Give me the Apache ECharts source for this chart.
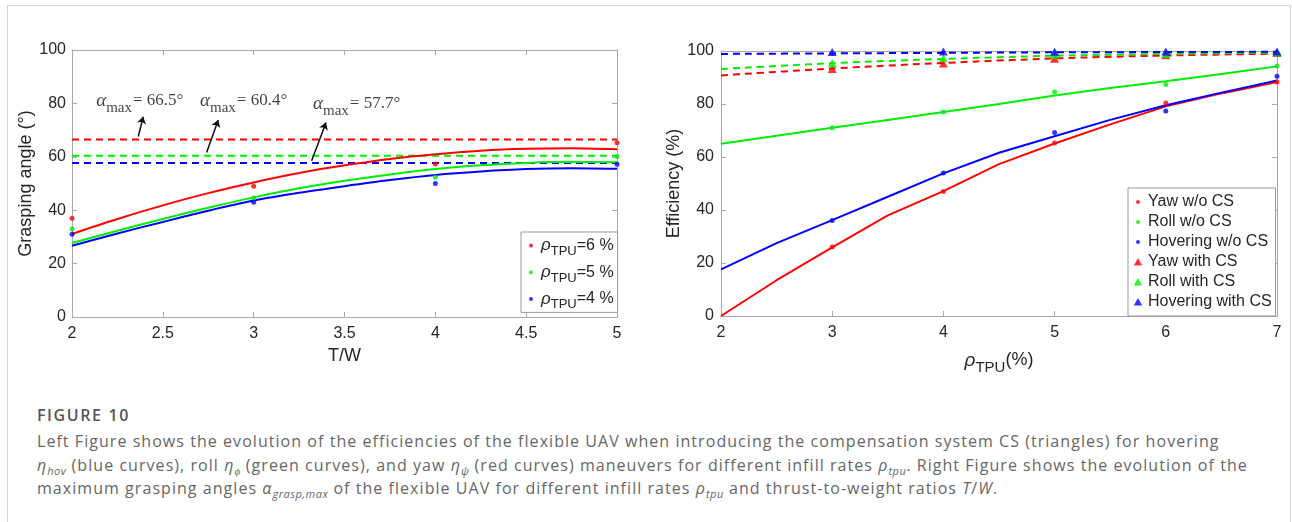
<!DOCTYPE html>
<html><head><meta charset="utf-8">
<script src="https://cdn.jsdelivr.net/npm/echarts@6/dist/echarts.min.js"></script>
<style>
html,body{margin:0;padding:0;background:#fff;width:1292px;height:522px;overflow:hidden;}
#frame{position:absolute;left:7px;top:5px;width:1282px;height:600px;border:1px solid #d4d4d4;}
#chart{position:absolute;left:0;top:0;width:1292px;height:390px;}
.cap{position:absolute;left:37px;font-family:'Open Sans';color:#666;font-size:16px;line-height:23px;white-space:nowrap;letter-spacing:1.05px;}
.cap sub{font-size:11px;line-height:0;vertical-align:-4px;letter-spacing:0.5px;}
#figt{font-weight:600;letter-spacing:1.6px;color:#555;}
</style></head><body>
<div id="frame"></div>
<div id="chart"></div>
<div class="cap" id="figt" style="top:404px;">FIGURE 10</div>
<div class="cap" id="l1" style="top:430px;">Left Figure shows the evolution of the efficiencies of the flexible UAV when introducing the compensation system CS (triangles) for hovering</div>
<div class="cap" id="l2" style="top:453.5px;"><i>η</i><sub><i>hov</i></sub> (blue curves), roll <i>η</i><sub><i>ϕ</i></sub> (green curves), and yaw <i>η</i><sub><i>ψ</i></sub> (red curves) maneuvers for different infill rates <i>ρ</i><sub><i>tpu</i></sub>. Right Figure shows the evolution of the</div>
<div class="cap" id="l3" style="top:477px;">maximum grasping angles <i>α</i><sub><i>grasp,max</i></sub> of the flexible UAV for different infill rates <i>ρ</i><sub><i>tpu</i></sub> and thrust-to-weight ratios <i>T</i>/<i>W</i>.</div>
<script>
// ---------- LEFT chart data (grasping angle vs T/W) ----------
const twTicks = [2, 2.5, 3, 3.5, 4, 4.5, 5];
const twPoints = [2, 3, 4, 5];
const grasp6 = [37, 49, 57.3, 65.3];
const grasp5 = [33, 44.6, 52.3, 60.1];
const grasp4 = [31, 43, 50, 57.2];
const twFitX = [2, 2.25, 2.5, 2.75, 3, 3.25, 3.5, 3.75, 4, 4.25, 4.5, 4.75, 5];
const fit6 = [31.1, 36.7, 41.8, 46.4, 50.4, 53.9, 56.8, 59.2, 61.0, 62.3, 63.0, 63.2, 62.8];
const fit5 = [27.7, 32.3, 36.7, 40.9, 44.8, 48.2, 51.0, 53.4, 55.4, 56.8, 57.7, 58.1, 58.0];
const fit4 = [26.7, 31.3, 35.6, 39.8, 43.6, 46.5, 49.0, 51.3, 53.2, 54.5, 55.4, 55.7, 55.5];
const alphaMax = [66.5, 60.4, 57.7];
const leftNames = ['ρTPU=6 %', 'ρTPU=5 %', 'ρTPU=4 %'];
// annotation anchors (data coords)
const annotText = [[2.133, 80.9], [2.705, 80.9], [3.327, 79.9]];
const annotArrowFrom = [[2.365, 67.6], [2.741, 61.6], [3.319, 58.5]];
const annotArrowTo = [[2.392, 75.0], [2.805, 73.8], [3.398, 72.8]];

// ---------- RIGHT chart data (efficiency vs rho_TPU) ----------
const rhoPoints = [3, 4, 5, 6, 7];
const yawNoCS = [26, 47, 65.3, 80.4, 88.3];
const rollNoCS = [71, 77, 84.5, 87.4, 94.3];
const hovNoCS = [36, 54, 69.2, 77.4, 90.5];
const yawCS = [93.2, 95.3, 97.1, 98.4, 99.2];
const rollCS = [95.4, 97.3, 98.6, 98.9, 99.4];
const hovCS = [99.6, 99.8, 99.7, 99.8, 99.8];
const rhoFitX = [2, 2.5, 3, 3.5, 4, 4.5, 5, 5.5, 6, 6.5, 7];
const yawFit = [0, 13.5, 25.9, 38.0, 47.1, 57.3, 65.1, 72.3, 79.1, 84.0, 88.3];
const rollFit = [65.0, 68.0, 71.0, 74.0, 77.0, 80.0, 83.2, 86.0, 88.6, 91.3, 94.2];
const hovFit = [17.6, 27.5, 36.2, 45.0, 53.8, 61.6, 67.8, 74.0, 79.5, 84.3, 88.9];
const rhoFitCSX = [2, 3, 4, 5, 6, 7];
const yawFitCS = [90.8, 93.4, 95.5, 97.2, 98.3, 99.0];
const rollFitCS = [93.2, 95.4, 97.0, 98.2, 98.9, 99.4];
const hovFitCS = [98.9, 99.1, 99.3, 99.5, 99.6, 99.7];
const rightNames = ['Yaw w/o CS', 'Roll w/o CS', 'Hovering w/o CS', 'Yaw with CS', 'Roll with CS', 'Hovering with CS'];

// ---------- styling ----------
const RED = '#ff0000', GREEN = '#00ee00', BLUE = '#0000ff';
const AXC = '#a8a8a8', TXT = '#262626', FONT = 'Liberation Sans';
const pair = (xs, ys) => xs.map((x, i) => [x, ys[i]]);
const dotIcon = 'path://M0,0L0.01,0M10,10L10.01,10M5,3A2,2,0,1,1,5,7A2,2,0,1,1,5,3Z';
const triIcon = 'path://M0,0L0.01,0M10,10L10.01,10M5,1L9.2,8.6L0.8,8.6Z';

function xAx(grid, min, max, interval, pos, name, extra) {
  return Object.assign({
    type: 'value', gridIndex: grid, min, max, interval, position: pos,
    axisLine: {show: true, onZero: false, lineStyle: {color: AXC, width: 1}},
    axisTick: {show: true, inside: true, length: 5, lineStyle: {color: AXC}},
    axisLabel: {show: pos === 'bottom', color: TXT, fontFamily: FONT, fontSize: 16, margin: 9},
    splitLine: {show: false},
    name: name || '', nameLocation: 'middle', nameGap: 29,
    nameTextStyle: {color: TXT, fontFamily: FONT, fontSize: 18}
  }, extra || {});
}
function yAx(grid, pos, name, gap, margin) {
  return {
    type: 'value', gridIndex: grid, min: 0, max: 100, interval: 20, position: pos,
    axisLine: {show: true, onZero: false, lineStyle: {color: AXC, width: 1}},
    axisTick: {show: true, inside: true, length: 5, lineStyle: {color: AXC}},
    axisLabel: {show: pos === 'left', color: TXT, fontFamily: FONT, fontSize: 16, margin: margin},
    splitLine: {show: false},
    name: name || '', nameLocation: 'middle', nameGap: gap, nameRotate: 90,
    nameTextStyle: {color: TXT, fontFamily: FONT, fontSize: 18}
  };
}

const series = [];
const lcolors = [RED, GREEN, BLUE];
// left dashed max lines
alphaMax.forEach((v, i) => series.push({
  type: 'line', xAxisIndex: 0, yAxisIndex: 0, data: [[2, v], [5, v]], symbol: 'none', silent: true,
  lineStyle: {color: lcolors[i], width: 2, type: [7, 5]}, z: 2
}));
// left fits
[fit6, fit5, fit4].forEach((f, i) => series.push({
  type: 'line', xAxisIndex: 0, yAxisIndex: 0, data: pair(twFitX, f), symbol: 'none', smooth: 0.3, silent: true,
  lineStyle: {color: lcolors[i], width: 2}, z: 3
}));
// left points
[grasp6, grasp5, grasp4].forEach((g, i) => series.push({
  name: leftNames[i], type: 'scatter', xAxisIndex: 0, yAxisIndex: 0, data: pair(twPoints, g),
  symbol: 'circle', symbolSize: 5, itemStyle: {color: lcolors[i]}, z: 4
}));
// annotations
series.push({
  type: 'scatter', xAxisIndex: 0, yAxisIndex: 0, symbolSize: 0, silent: true, z: 6,
  data: annotText.map((p, i) => ({value: p, label: {formatter: '{a|α}{m|max}{e|= ' + alphaMax[i].toFixed(1) + '°}'}})),
  label: {show: true, position: 'right', distance: 0,
    rich: {
      a: {fontFamily: 'Liberation Serif', fontStyle: 'italic', fontSize: 19, color: '#111', lineHeight: 18},
      m: {fontFamily: 'Liberation Serif', fontSize: 15, color: '#111', lineHeight: 15, padding: [14, 1, 0, 0]},
      e: {fontFamily: 'Liberation Serif', fontSize: 17, color: '#111', lineHeight: 18}
    }},
  markLine: {
    silent: true, symbol: ['none', 'arrow'], symbolSize: 7, animation: false,
    label: {show: false},
    lineStyle: {color: '#111', width: 1.5, type: 'solid'},
    data: annotArrowFrom.map((f, i) => [{coord: f}, {coord: annotArrowTo[i]}])
  }
});
// right dashed fits (with CS)
[yawFitCS, rollFitCS, hovFitCS].forEach((f, i) => series.push({
  type: 'line', xAxisIndex: 2, yAxisIndex: 2, data: pair(rhoFitCSX, f), symbol: 'none', smooth: 0.3, silent: true,
  lineStyle: {color: lcolors[i], width: 2, type: [7, 5]}, z: 2
}));
// right solid fits (w/o CS)
[yawFit, rollFit, hovFit].forEach((f, i) => series.push({
  type: 'line', xAxisIndex: 2, yAxisIndex: 2, data: pair(rhoFitX, f), symbol: 'none', silent: true,
  lineStyle: {color: lcolors[i], width: 2}, z: 3
}));
// right dots
[yawNoCS, rollNoCS, hovNoCS].forEach((g, i) => series.push({
  name: rightNames[i], type: 'scatter', xAxisIndex: 2, yAxisIndex: 2, data: pair(rhoPoints, g),
  symbol: 'circle', symbolSize: 5, itemStyle: {color: lcolors[i]}, z: 4
}));
// right triangles
[yawCS, rollCS, hovCS].forEach((g, i) => series.push({
  name: rightNames[i + 3], type: 'scatter', xAxisIndex: 2, yAxisIndex: 2, data: pair(rhoPoints, g),
  symbol: 'triangle', symbolSize: [9, 8], itemStyle: {color: lcolors[i]}, z: 5
}));

const option = {
  animation: false,
  grid: [
    {left: 72, top: 50, width: 545, height: 267},
    {left: 721, top: 51, width: 556, height: 265}
  ],
  xAxis: [
    xAx(0, 2, 5, 0.5, 'bottom', 'T/W'),
    xAx(0, 2, 5, 0.5, 'top'),
    xAx(1, 2, 7, 1, 'bottom', '{r|ρ}{s|TPU}{t|(%)}', {nameGap: 27, nameTextStyle: {color: TXT, fontFamily: FONT, fontSize: 18,
      rich: {r: {fontFamily: FONT, fontStyle: 'italic', fontSize: 19, color: TXT, lineHeight: 19},
             s: {fontFamily: FONT, fontSize: 15, color: TXT, lineHeight: 15, padding: [14, 0, 0, 0]},
             t: {fontFamily: FONT, fontSize: 18, color: TXT, lineHeight: 19}}}}),
    xAx(1, 2, 7, 1, 'top')
  ],
  yAxis: [
    yAx(0, 'left', 'Grasping angle (°)', 35, 6),
    yAx(0, 'right', '', 0, 6),
    yAx(1, 'left', 'Efficiency (%)', 37, 7),
    yAx(1, 'right', '', 0, 7)
  ],
  legend: [
    {
      orient: 'vertical', left: 521, top: 232, padding: [1, 4, 1, 5], itemGap: 1.7,
      itemWidth: 10, itemHeight: 10, backgroundColor: '#fff', borderColor: '#999', borderWidth: 1,
      selectedMode: false,
      data: leftNames.map((n, i) => ({name: n, icon: dotIcon, itemStyle: {color: lcolors[i]}})),
      formatter: n => '{r|ρ}{s|TPU}{t|' + n.split('TPU')[1] + '}',
      textStyle: {color: TXT, fontFamily: FONT, fontSize: 16,
        rich: {r: {fontFamily: FONT, fontStyle: 'italic', fontSize: 17, color: TXT, lineHeight: 18},
               s: {fontFamily: FONT, fontSize: 13, color: TXT, lineHeight: 13, padding: [12, 0, 0, 0]},
               t: {fontFamily: FONT, fontSize: 16, color: TXT, lineHeight: 18}}}
    },
    {
      orient: 'vertical', left: 1128, top: 188, padding: [6, 4, 6, 5], itemGap: 4,
      itemWidth: 10, itemHeight: 10, backgroundColor: '#fff', borderColor: '#999', borderWidth: 1,
      selectedMode: false,
      data: rightNames.map((n, i) => ({name: n, icon: i < 3 ? dotIcon : triIcon, itemStyle: {color: lcolors[i % 3]}})),
      textStyle: {color: TXT, fontFamily: FONT, fontSize: 16, lineHeight: 16}
    }
  ],
  series: series
};
const chart = echarts.init(document.getElementById('chart'), null, {renderer: 'canvas'});
chart.setOption(option);
</script>
</body></html>
